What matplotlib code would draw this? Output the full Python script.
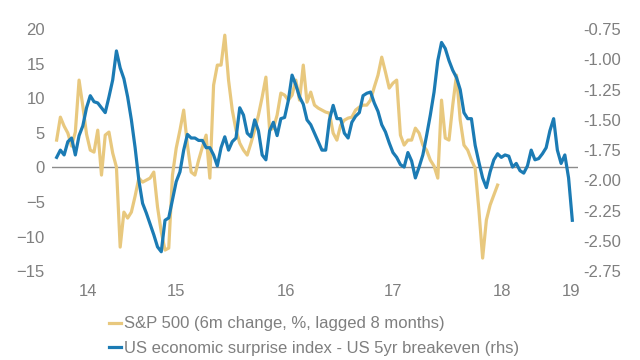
import numpy as np
import pandas as pd
import matplotlib
matplotlib.use('Agg')
import matplotlib.pyplot as plt

plt.rcParams['font.family'] = ['Liberation Sans', 'DejaVu Sans']

# S&P 500, 6m change %, lagged 8 months (fortnightly readings from Sep 2013)
spx = [3.95, 7.27, 5.97, 4.96, 3.08, 5.11, 12.63, 8.87, 4.82, 2.50,
       2.21, 5.39, -1.11, 4.67, 5.11, 2.07, 0.04, -11.53, -6.47, -7.33,
       -6.47, -4.15, -1.55, -2.13, -1.84, -1.55, -0.68, -5.74, -9.36, -11.96,
       -11.67, -1.11, 2.79, 5.39, 8.29, 3.23, -0.68, -1.11, 1.06, 2.94,
       4.67, -1.55, 11.90, 14.80, 14.80, 19.13, 12.63, 8.29, 5.39, 3.51,
       2.50, 1.78, 3.51, 5.39, 7.56, 10.17, 13.06, 5.39, 5.68, 7.56,
       10.75, 10.46, 9.73, 10.46, 12.63, 9.73, 14.80, 9.44, 10.89, 9.01,
       8.58, 8.29, 8.00, 7.85, 4.96, 3.95, 6.12, 6.84, 7.13, 7.27,
       8.29, 8.72, 9.01, 9.01, 9.73, 11.61, 13.35, 15.95, 13.78, 11.47,
       12.19, 12.63, 4.67, 3.23, 3.95, 3.95, 5.68, 4.96, 3.23, 2.50,
       1.06, 0.19, -1.55, 9.73, 4.24, 3.95, 9.01, 13.35, 6.84, 3.23,
       2.50, 1.06, -0.10, -6.18, -13.12, -7.62, -5.45, -4.00, -2.56]

# US economic surprise index - US 5yr breakeven (rhs)
surprise = [-1.81, -1.75, -1.79, -1.68, -1.65, -1.79, -1.63, -1.55, -1.40, -1.30,
            -1.35, -1.36, -1.40, -1.44, -1.31, -1.17, -0.93, -1.07, -1.16, -1.31,
            -1.50, -1.73, -2.00, -2.19, -2.27, -2.36, -2.45, -2.55, -2.59, -2.33,
            -2.31, -2.16, -2.01, -1.93, -1.75, -1.62, -1.65, -1.65, -1.67, -1.67,
            -1.73, -1.73, -1.79, -1.88, -1.73, -1.64, -1.75, -1.68, -1.65, -1.40,
            -1.46, -1.61, -1.64, -1.50, -1.59, -1.79, -1.83, -1.59, -1.52, -1.63,
            -1.49, -1.48, -1.34, -1.13, -1.21, -1.31, -1.37, -1.50, -1.54, -1.61,
            -1.68, -1.75, -1.75, -1.50, -1.38, -1.49, -1.49, -1.61, -1.65, -1.52,
            -1.47, -1.44, -1.30, -1.28, -1.27, -1.36, -1.43, -1.54, -1.60, -1.69,
            -1.77, -1.81, -1.87, -1.89, -1.77, -1.84, -1.98, -1.89, -1.79, -1.63,
            -1.46, -1.27, -1.01, -0.86, -0.91, -1.01, -1.09, -1.15, -1.25, -1.44,
            -1.49, -1.49, -1.71, -1.85, -1.98, -2.06, -1.93, -1.83, -1.78, -1.81,
            -1.79, -1.80, -1.89, -1.86, -1.92, -1.94, -1.88, -1.75, -1.83, -1.82,
            -1.78, -1.73, -1.59, -1.49, -1.75, -1.86, -1.79, -1.98, -2.33]

start = '2013-09-13'
tick_dates = ['2014-01-07', '2014-12-06', '2016-01-22', '2017-02-25', '2018-04-08', '2018-12-23']
tick_labels = ['14', '15', '16', '17', '18', '19']

spx_dates = pd.date_range(start, periods=len(spx), freq='14D')
sur_dates = pd.date_range(start, periods=len(surprise), freq='14D')

gold = '#e8c87e'
blue = '#1b7bb4'
grey = '#7f7f7f'

fig = plt.figure(figsize=(6.4, 3.6), dpi=100)
ax1 = fig.add_axes([0.081, 0.247, 0.822, 0.672])
ax2 = ax1.twinx()

ax1.axhline(0, color='#8c8c8c', lw=1.0, zorder=1)
l1, = ax1.plot(spx_dates, spx, color=gold, lw=2.3, zorder=2)
l2, = ax2.plot(sur_dates, surprise, color=blue, lw=2.3, zorder=3)

ax1.set_ylim(-15, 20)
ax1.set_yticks(np.arange(-15, 21, 5))
ax2.set_ylim(-2.75, -0.75)
ax2.set_yticks(np.arange(-2.75, -0.74, 0.25))
ax2.set_yticklabels(['%.2f' % v for v in np.arange(-2.75, -0.74, 0.25)])

ax1.set_xlim(pd.Timestamp('2013-08-26'), pd.Timestamp('2019-01-18'))
ax1.set_xticks(pd.to_datetime(tick_dates))
ax1.set_xticklabels(tick_labels)

for ax in (ax1, ax2):
    for s in ax.spines.values():
        s.set_visible(False)
    ax.tick_params(length=0, labelsize=12, labelcolor=grey)
ax1.tick_params(axis='y', pad=5)
ax1.tick_params(axis='x', pad=9)
ax2.tick_params(axis='y', pad=4)

fig.legend([l1, l2],
           ['S&P 500 (6m change, %, lagged 8 months)',
            'US economic surprise index - US 5yr breakeven (rhs)'],
           loc='upper left', bbox_to_anchor=(0.171, 0.121), frameon=False,
           fontsize=12, labelcolor=grey, handlelength=0.7, handletextpad=0.15,
           labelspacing=0.55, borderpad=0, borderaxespad=0)

fig.savefig('out.png', dpi=100)
